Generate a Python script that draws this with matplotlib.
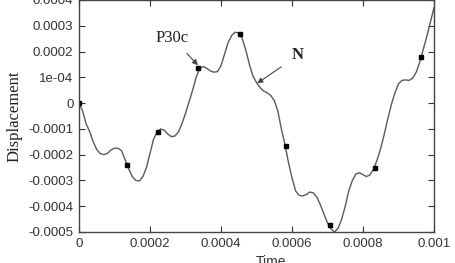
import matplotlib
matplotlib.use("Agg")
import matplotlib.pyplot as plt

# Curve samples (every 1e-5 s)
time = [i * 1e-5 for i in range(101)]
disp = [0, -0.00003, -0.00008, -0.00011, -0.00015, -0.00018, -0.000196, -0.0002, -0.000195, -0.000182,
        -0.000175, -0.000175, -0.000185, -0.00022, -0.000255, -0.000285, -0.0003, -0.000302, -0.000285, -0.00025,
        -0.000195, -0.00014, -0.000112, -0.0001, -0.000105, -0.00012, -0.00013, -0.000128, -0.000112, -0.00008,
        -0.00004, 0.000005, 0.00005, 0.0001, 0.000135, 0.000142, 0.000135, 0.000125, 0.00012, 0.000122,
        0.000145, 0.00019, 0.000235, 0.000262, 0.000275, 0.000272, 0.00025, 0.000205, 0.00015, 0.000105,
        0.00008, 0.00006, 0.000047, 0.00004, 0.00003, 0.00001, -0.00003, -0.0001, -0.00016, -0.00023,
        -0.00029, -0.00034, -0.000358, -0.00036, -0.000355, -0.000345, -0.000348, -0.000365, -0.000395, -0.00043,
        -0.000465, -0.000488, -0.0005, -0.000485, -0.00045, -0.0004, -0.00034, -0.0003, -0.000275, -0.00027,
        -0.000278, -0.000285, -0.000278, -0.000255, -0.00022, -0.000175, -0.00012, -0.00006, -0.000005, 0.00004,
        0.000075, 0.000088, 0.00009, 0.000088, 0.000097, 0.00012, 0.00016, 0.00021, 0.00026, 0.000315,
        0.00037]

marker_t = [0, 0.000135, 0.000222, 0.000335, 0.000453, 0.000583, 0.000707, 0.000834, 0.000963]
marker_v = [0, -0.00024, -0.000113, 0.000137, 0.00027, -0.000165, -0.000473, -0.00025, 0.000177]

xticks = [0, 0.0002, 0.0004, 0.0006, 0.0008, 0.001]
xticklabels = ["0", "0.0002", "0.0004", "0.0006", "0.0008", "0.001"]
yticks = [-0.0005, -0.0004, -0.0003, -0.0002, -0.0001, 0, 0.0001, 0.0002, 0.0003, 0.0004]
yticklabels = ["-0.0005", "-0.0004", "-0.0003", "-0.0002", "-0.0001", "0", "1e-04",
               "0.0002", "0.0003", "0.0004"]

fig = plt.figure(figsize=(4.55, 2.63), dpi=100)
ax = fig.add_axes([79/455, 1 - 232/263, (434-79)/455, 232/263])

ax.plot(time, disp, color="#5a5a5a", lw=1.0)
ax.plot(marker_t, marker_v, ls="none", marker="s", ms=2.2, color="black")

ax.set_xlim(0, 0.001)
ax.set_ylim(-0.0005, 0.0004)
ax.set_xticks(xticks)
ax.set_xticklabels(xticklabels)
ax.set_yticks(yticks)
ax.set_yticklabels(yticklabels)
ax.tick_params(direction="in", top=True, right=True, length=4, width=0.8,
               labelsize=9.5, colors="#333333", pad=4)
for lab in ax.get_xticklabels() + ax.get_yticklabels():
    lab.set_family("Liberation Sans")
for s in ax.spines.values():
    s.set_color("#444444")
    s.set_linewidth(1.0)

ax.set_ylabel("Displacement", family="Liberation Serif", fontsize=12, color="#222222", labelpad=4)
ax.set_xlabel("Time", family="Liberation Sans", fontsize=10, color="#333333", labelpad=6)
ax.xaxis.set_label_coords(0.54, -0.1)

ax.annotate("P30c", xy=(0.000335, 0.000147), xytext=(0.000262, 0.000254),
            fontsize=12, family="Liberation Serif", color="#222222",
            ha="center", va="center",
            arrowprops=dict(arrowstyle="-|>", color="#444444", lw=0.8,
                            mutation_scale=8, shrinkA=5, shrinkB=0))
ax.annotate("N", xy=(0.000502, 0.000077), xytext=(0.000617, 0.000185),
            fontsize=12, family="Liberation Serif", color="#222222", weight="bold",
            ha="center", va="center",
            arrowprops=dict(arrowstyle="-|>", color="#444444", lw=0.8,
                            mutation_scale=8, shrinkA=7, shrinkB=0))

fig.savefig("out.png", dpi=100)
